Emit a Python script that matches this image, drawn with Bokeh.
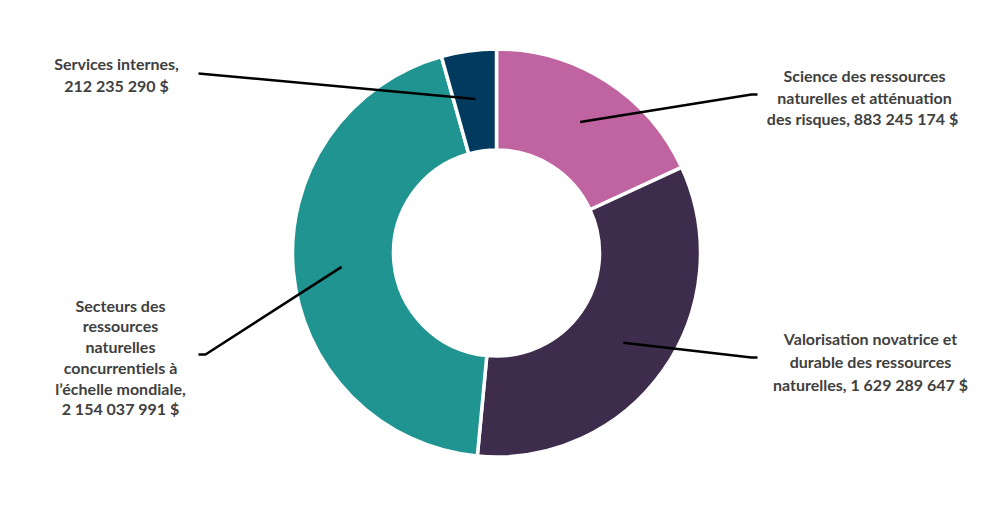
import math

from bokeh.core.properties import value
from bokeh.embed import file_html
from bokeh.models import ColumnDataSource, Range1d
from bokeh.plotting import figure
from bokeh.resources import INLINE

# budget by core responsibility (dollars)
categories = [
    "Science des ressources naturelles et atténuation des risques",
    "Valorisation novatrice et durable des ressources naturelles",
    "Secteurs des ressources naturelles concurrentiels à l’échelle mondiale",
    "Services internes",
]
amounts = [883245174, 1629289647, 2154037991, 212235290]
colors = ["#BF64A0", "#3D2C4B", "#1F9490", "#003B5F"]

# label text, broken the way the original wraps it
label_lines = [
    ["Science des ressources", "naturelles et atténuation", "des risques,  883 245 174 $"],
    ["Valorisation novatrice et", "durable des ressources", "naturelles, 1 629 289 647 $"],
    ["Secteurs des", "ressources", "naturelles", "concurrentiels à", "l’échelle mondiale,", "2 154 037 991 $"],
    ["Services internes,", "212 235 290 $"],
]

W, H = 976, 490
cx, cy = 496, 506 - 252.5
r_out, r_in = 204, 103

p = figure(width=W, height=H, output_backend="svg", toolbar_location=None,
           x_range=Range1d(0, W), y_range=Range1d(506 - H, 506),
           min_border=0)
p.axis.visible = False
p.grid.visible = False
p.outline_line_color = None

total = float(sum(amounts))
starts, ends, mids = [], [], []
cum = 0.0
for a in amounts:
    s = math.pi / 2 - 2 * math.pi * cum / total
    cum += a
    e = math.pi / 2 - 2 * math.pi * cum / total
    starts.append(s)
    ends.append(e)
    mids.append((s + e) / 2)

src = ColumnDataSource(dict(start=starts, end=ends, color=colors, name=categories))
p.annular_wedge(x=cx, y=cy, inner_radius=r_in, outer_radius=r_out,
                start_angle="start", end_angle="end", direction="clock",
                fill_color="color", line_color="white", line_width=3.5, source=src)

# leader lines: from the middle of each slice out to its label
r_mid = (r_in + r_out) / 2 + 2
elbows = [(751, 94, 757), (751, 357, 757), (205, 354, 198), (198, 73, 198)]
xs, ys = [], []
for ang, (ex, ey, tx) in zip(mids, elbows):
    x0 = cx + r_mid * math.cos(ang)
    y0 = cy + r_mid * math.sin(ang)
    xs.append([x0, ex, tx])
    ys.append([y0, 506 - ey, 506 - ey])
p.multi_line(xs=xs, ys=ys, line_color="black", line_width=2.5)

# label placement (centre of each text block, in picture pixels)
label_pos = [(864, 96.5, 21.7), (870, 361, 23), (120, 356.5, 20.7), (116, 74, 22)]
tx_, ty_, tt_ = [], [], []
for lines, (lx, ly, step) in zip(label_lines, label_pos):
    n = len(lines)
    for i, t in enumerate(lines):
        tx_.append(lx)
        ty_.append(506 - (ly + (i - (n - 1) / 2) * step))
        tt_.append(t)
tsrc = ColumnDataSource(dict(x=tx_, y=ty_, text=tt_))
p.text(x="x", y="y", text="text", source=tsrc, text_align="center",
       text_baseline="middle", text_font=value("Lato"), text_font_style="bold",
       text_font_size="16px", text_color="#404040")

open("out.html", "w").write(file_html(p, INLINE))
